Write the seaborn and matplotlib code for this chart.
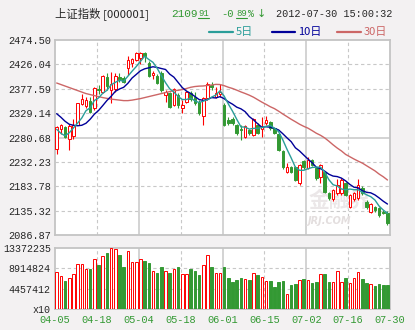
import matplotlib
matplotlib.use("Agg")
import matplotlib.pyplot as plt
from matplotlib.lines import Line2D
import numpy as np
import seaborn as sns

# ---- daily data, 上证指数 2012-04-05 .. 2012-07-30 ----
date_labels = ["04-05", "04-18", "05-04", "05-18", "06-01", "06-15", "07-02", "07-16", "07-30"]

opens = [2257.4, 2297.1, 2301.1, 2278.5, 2284.5, 2305.7, 2347.4, 2344.1, 2353.4, 2338.8,
         2376.5, 2370.6, 2400.4, 2375.2, 2376.5, 2400.4, 2398.4, 2418.2, 2429.5, 2434.8,
         2438.1, 2449.3, 2429.5, 2405.0, 2403.0, 2408.3, 2365.2, 2368.5, 2345.3, 2365.2,
         2340.0, 2352.0, 2369.9, 2361.9, 2352.0, 2323.4, 2358.6, 2385.0, 2362.0, 2367.0,
         2345.3, 2315.5, 2316.8, 2305.5, 2297.0, 2281.0, 2295.6, 2285.6, 2305.5, 2296.9,
         2308.8, 2312.1, 2298.9, 2287.6, 2253.8, 2212.7, 2221.4, 2221.4, 2189.6, 2234.0,
         2219.4, 2236.0, 2219.4, 2202.8, 2212.7, 2169.7, 2157.7, 2169.7, 2169.7, 2190.0,
         2143.2, 2157.7, 2159.7, 2179.6, 2153.1, 2133.5, 2143.0, 2140.0, 2133.0, 2130.0]
highs = [2303.7, 2307.7, 2303.7, 2307.0, 2317.0, 2350.0, 2367.3, 2362.0, 2360.6, 2381.8,
         2385.1, 2405.0, 2409.6, 2411.6, 2409.6, 2409.6, 2403.0, 2442.7, 2438.1, 2450.7,
         2450.0, 2451.5, 2432.0, 2413.5, 2406.0, 2412.0, 2375.0, 2371.0, 2380.0, 2368.5,
         2355.0, 2374.0, 2373.0, 2371.8, 2355.0, 2361.9, 2391.7, 2391.7, 2381.8, 2388.0,
         2348.6, 2322.0, 2322.0, 2308.0, 2305.5, 2305.0, 2298.0, 2319.0, 2310.0, 2322.0,
         2323.4, 2314.0, 2300.0, 2290.0, 2256.0, 2229.3, 2224.0, 2224.0, 2228.0, 2236.0,
         2241.2, 2238.0, 2221.0, 2228.0, 2215.0, 2172.0, 2178.0, 2197.5, 2200.0, 2192.0,
         2168.0, 2172.0, 2197.5, 2184.0, 2156.0, 2151.0, 2145.0, 2142.0, 2136.5, 2135.0]
lows = [2248.1, 2287.8, 2280.5, 2256.0, 2277.0, 2305.0, 2344.8, 2338.8, 2330.2, 2335.5,
        2367.3, 2368.6, 2375.2, 2348.7, 2371.9, 2391.8, 2388.4, 2405.0, 2421.5, 2433.5,
        2427.0, 2430.0, 2400.0, 2396.3, 2387.0, 2372.0, 2352.0, 2340.0, 2343.3, 2338.8,
        2328.7, 2350.0, 2354.0, 2345.3, 2326.0, 2305.5, 2355.3, 2375.2, 2358.6, 2362.0,
        2303.5, 2305.5, 2306.0, 2286.0, 2275.7, 2279.0, 2286.0, 2283.0, 2288.0, 2282.3,
        2305.5, 2296.0, 2287.0, 2253.0, 2219.0, 2210.8, 2210.0, 2194.0, 2187.0, 2219.0,
        2217.4, 2224.0, 2197.0, 2189.6, 2171.0, 2157.0, 2155.0, 2166.4, 2167.0, 2164.0,
        2141.0, 2155.0, 2156.4, 2166.4, 2138.0, 2131.0, 2133.0, 2123.0, 2128.6, 2106.0]
closes = [2301.1, 2305.7, 2282.5, 2303.7, 2305.7, 2348.7, 2356.7, 2355.3, 2332.2, 2378.5,
          2374.5, 2403.0, 2383.8, 2387.1, 2403.0, 2396.4, 2391.1, 2434.8, 2436.8, 2449.3,
          2448.0, 2442.0, 2403.0, 2408.3, 2389.7, 2375.2, 2371.9, 2342.0, 2376.4, 2345.3,
          2345.3, 2371.9, 2356.6, 2348.7, 2328.7, 2358.6, 2387.1, 2381.8, 2369.0, 2371.0,
          2305.5, 2308.8, 2310.1, 2289.0, 2295.6, 2303.5, 2289.0, 2316.8, 2290.3, 2302.2,
          2315.5, 2298.9, 2289.0, 2255.8, 2221.4, 2221.4, 2212.7, 2196.2, 2226.0, 2221.4,
          2236.0, 2226.0, 2199.5, 2226.0, 2173.0, 2159.7, 2176.3, 2186.2, 2196.2, 2166.0,
          2166.4, 2169.7, 2186.2, 2169.7, 2142.0, 2148.0, 2136.0, 2126.0, 2130.0, 2109.9]

volumes = [8080000, 7200000, 6170000, 6760000, 7640000, 9840000, 9840000, 8670000, 8670000, 11000000,
           9550000, 11600000, 12300000, 13372235, 13200000, 11750000, 9260000, 12800000, 10300000, 10300000,
           11000000, 10600000, 10000000, 8380000, 7790000, 9260000, 8380000, 7790000, 8820000, 9110000,
           7640000, 7640000, 8670000, 8230000, 7490000, 9700000, 11900000, 9110000, 7930000, 7930000,
           9110000, 6900000, 6020000, 6320000, 6900000, 6610000, 6320000, 7930000, 7350000, 7050000,
           6170000, 6170000, 4920000, 6020000, 6170000, 3380000, 5290000, 5510000, 6320000, 6470000,
           6320000, 5730000, 5950000, 7640000, 7710000, 5950000, 5880000, 8380000, 5880000, 6830000,
           5660000, 6760000, 8080000, 6610000, 5730000, 5440000, 5070000, 5510000, 5290000, 5290000]

ma5 = [2297, 2289, 2284, 2290, 2299.7, 2309.3, 2319.5, 2334.0, 2339.7, 2354.3,
       2359.4, 2368.7, 2374.4, 2385.4, 2390.3, 2394.7, 2392.3, 2402.5, 2412.4, 2421.7,
       2432.0, 2442.2, 2435.8, 2430.1, 2418.2, 2403.6, 2389.6, 2377.4, 2371.0, 2362.2,
       2356.2, 2356.2, 2359.1, 2353.6, 2350.2, 2352.9, 2355.9, 2361.0, 2365.0, 2373.5,
       2362.9, 2347.2, 2332.9, 2316.9, 2301.8, 2301.4, 2297.4, 2298.8, 2299.0, 2300.4,
       2302.8, 2304.7, 2299.2, 2292.3, 2276.1, 2257.3, 2240.1, 2221.5, 2215.5, 2215.5,
       2218.5, 2221.1, 2221.8, 2221.8, 2212.1, 2196.8, 2186.9, 2184.2, 2178.3, 2176.9,
       2178.2, 2176.9, 2176.9, 2171.6, 2166.8, 2163.1, 2156.4, 2144.3, 2136.4, 2130.0]
ma10 = [2328, 2321, 2313, 2307, 2305, 2304, 2305, 2309, 2317, 2327.0,
        2334.4, 2344.1, 2354.2, 2362.6, 2372.3, 2377.1, 2380.5, 2388.4, 2398.9, 2406.0,
        2413.3, 2417.2, 2419.2, 2421.3, 2419.9, 2417.8, 2415.9, 2406.6, 2400.6, 2390.2,
        2379.9, 2372.9, 2368.3, 2362.3, 2356.2, 2354.5, 2356.1, 2360.0, 2359.3, 2361.9,
        2357.9, 2351.6, 2346.9, 2341.0, 2337.7, 2332.1, 2322.3, 2315.8, 2308.0, 2301.1,
        2302.1, 2301.1, 2299.0, 2295.7, 2288.2, 2280.0, 2272.4, 2260.3, 2253.9, 2245.8,
        2237.9, 2230.6, 2221.6, 2218.7, 2213.8, 2207.7, 2204.0, 2203.0, 2200.0, 2194.5,
        2187.5, 2181.9, 2180.6, 2174.9, 2171.8, 2170.7, 2166.6, 2160.6, 2154.0, 2148.4]
ma30 = [2389, 2386, 2383, 2380, 2377, 2374, 2371, 2368, 2366, 2364,
        2362, 2360, 2358.5, 2357, 2356, 2355, 2354, 2354, 2355, 2356.5,
        2358, 2360, 2362, 2364, 2366, 2368, 2370, 2372, 2374, 2374.4,
        2375.9, 2378.1, 2380.5, 2382.0, 2382.8, 2383.1, 2384.2, 2385.0, 2386.3, 2386.0,
        2383.7, 2380.6, 2378.1, 2374.8, 2371.3, 2368.2, 2364.8, 2360.8, 2355.9, 2351.0,
        2346.6, 2341.9, 2338.1, 2333.0, 2327.4, 2322.2, 2316.9, 2312.1, 2307.1, 2302.9,
        2299.3, 2294.4, 2289.2, 2285.1, 2279.9, 2273.3, 2266.2, 2259.7, 2254.0, 2247.1,
        2242.5, 2237.9, 2233.7, 2229.8, 2224.6, 2219.5, 2214.4, 2208.0, 2202.6, 2196.2]

price_ticks = [2086.87, 2135.32, 2183.78, 2232.23, 2280.68, 2329.14, 2377.59, 2426.04, 2474.50]
vol_ticks = [0, 4457412, 8914824, 13372235]
vol_tick_labels = ["x10", "4457412", "8914824", "13372235"]

# ---- style ----
sns.set_style("white")
plt.rcParams["font.family"] = ["DejaVu Sans"]
MONO = "Liberation Mono"
CJK = ["Noto Sans CJK SC", "DejaVu Sans"]
RED, GREEN = "#ff0000", "#339933"
C5, C10, C30 = "#2a9d99", "#000099", "#cc6666"
GRID, FRAME, BG = "#c8c8c8", "#c4c4c4", "#f3f1f2"

W, H = 415, 330
fig = plt.figure(figsize=(W / 100, H / 100), dpi=100, facecolor=BG)


def fx(px):
    return px / W


def fy(py):
    return 1 - py / H


ax = fig.add_axes([fx(55), fy(235), fx(390) - fx(55), fy(40) - fy(235)])
axv = fig.add_axes([fx(55), fy(309), fx(390) - fx(55), fy(248) - fy(309)])

o = np.array(opens)
h = np.array(highs)
l = np.array(lows)
c = np.array(closes)
idx = np.arange(len(c))
up = c >= o
col = np.where(up, RED, GREEN)
x0, x1 = -0.4, 79.6
vgrid = [x0 + 10 * k for k in range(1, 8)]

for a in (ax, axv):
    a.set_facecolor("white")
    a.set_xlim(x0, x1)
    for s in a.spines.values():
        s.set_color(FRAME)
        s.set_linewidth(1.3)
    for k, xv in enumerate(vgrid, start=1):
        if k % 2 == 0:
            a.axvline(xv, color=GRID, lw=1.1, zorder=1)
        else:
            a.axvline(xv, color=GRID, lw=0.8, ls=(0, (3, 2.5)), zorder=1)
    a.tick_params(length=0, pad=3)

# ---- price panel ----
ax.set_ylim(price_ticks[0], price_ticks[-1])
for i, yv in enumerate(price_ticks[1:-1], start=1):
    if i == 4:
        ax.axhline(yv, color=GRID, lw=1.1, zorder=1)
    else:
        ax.axhline(yv, color=GRID, lw=0.8, ls=(0, (3, 2.5)), zorder=1)

ax.text(0.85, 0.18, "金融界", transform=ax.transAxes, ha="center", va="center",
        fontsize=15, fontweight="bold", color="#ebe7e8", family=CJK, zorder=1.5)
ax.text(0.82, 0.07, "JRJ.COM", transform=ax.transAxes, ha="center", va="center",
        fontsize=7, fontweight="bold", fontstyle="italic", color="#e3dede", zorder=1.5)

ax.vlines(idx, l, h, colors=col, lw=0.8, zorder=3)
body_lo = np.minimum(o, c)
body_h = np.maximum(np.abs(c - o), 0.9)
ax.bar(idx, body_h, bottom=body_lo, width=0.62, color=np.where(up, "white", GREEN),
       edgecolor=col, linewidth=0.7, zorder=4)

sns.lineplot(x=np.arange(len(ma30)), y=ma30, ax=ax, color=C30, lw=1.0, zorder=5)
sns.lineplot(x=np.arange(len(ma10)), y=ma10, ax=ax, color=C10, lw=1.0, zorder=6)
sns.lineplot(x=np.arange(len(ma5)), y=ma5, ax=ax, color=C5, lw=1.0, zorder=7)

ax.set_yticks(price_ticks)
ax.set_yticklabels(["%.2f" % v for v in price_ticks], family=MONO, fontsize=7.4)
ax.set_xticks([])
ax.set_xlabel("")
ax.set_ylabel("")

# ---- volume panel ----
axv.set_ylim(0, vol_ticks[-1])
for yv in vol_ticks[1:-1]:
    axv.axhline(yv, color=GRID, lw=0.8, ls=(0, (3, 2.5)), zorder=1)
axv.bar(idx, volumes, width=0.62, color=np.where(up, "white", GREEN),
        edgecolor=np.where(up, RED, GREEN), linewidth=0.7, zorder=3)
axv.set_yticks(vol_ticks)
axv.set_yticklabels(vol_tick_labels, family=MONO, fontsize=7.2)
axv.set_xticks([x0] + vgrid + [x1])
axv.set_xticklabels(date_labels, family=MONO, fontsize=7.4, color=GREEN)
axv.tick_params(axis="x", pad=4)

# ---- header ----
fig.text(fx(55), fy(14), "上证指数 [000001]", family=CJK, fontsize=8.2, va="center", ha="left")
fig.text(fx(171), fy(14), "2109", family=MONO, fontsize=8, color=GREEN, va="center", ha="left")
fig.text(fx(198), fy(13), "91", family=MONO, fontsize=6.4, color=GREEN, va="center", ha="left")
fig.text(fx(221), fy(14), "-0", family=MONO, fontsize=7.6, color=GREEN, va="center", ha="left")
fig.text(fx(236), fy(13), "89", family=MONO, fontsize=6.4, color=GREEN, va="center", ha="left")
fig.text(fx(248), fy(14), "%", family=MONO, fontsize=7, color=GREEN, va="center", ha="left")
fig.text(fx(257), fy(14), "↓", fontsize=8, color=GREEN, va="center", ha="left")
for xa, xb in ((198, 209), (236, 247)):
    fig.add_artist(Line2D([fx(xa), fx(xb)], [fy(18), fy(18)], transform=fig.transFigure,
                          color=GREEN, lw=0.8))
fig.text(fx(276), fy(14), "2012-07-30 15:00:32", family=MONO, fontsize=7.3, va="center", ha="left")

for xa, xb, label, color in ((209, 233, "5日", C5), (272, 295, "10日", C10), (337, 361, "30日", C30)):
    fig.add_artist(Line2D([fx(xa), fx(xb)], [fy(32), fy(32)], transform=fig.transFigure,
                          color=color, lw=1.6))
    fig.text(fx(xb + 3), fy(32), label, family=CJK, fontsize=8, color=color, va="center", ha="left")

fig.savefig("out.png", dpi=100, facecolor=fig.get_facecolor())
